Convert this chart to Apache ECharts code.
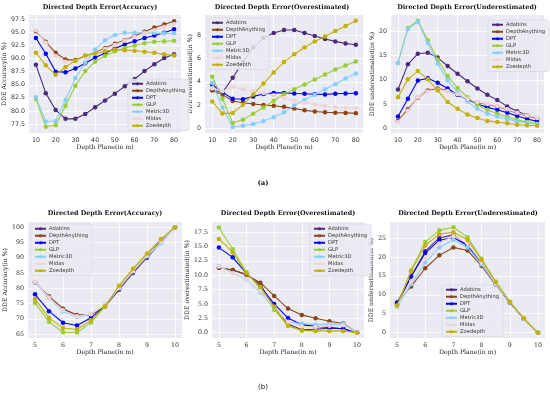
<!DOCTYPE html>
<html><head><meta charset="utf-8">
<script src="https://cdn.jsdelivr.net/npm/echarts@6/dist/echarts.min.js"></script>
<style>html,body{margin:0;padding:0;background:#fff}#c{width:550px;height:396px}</style>
</head><body><div id="c"></div>
<script>
const models = ['Adabins','DepthAnything','DPT','GLP','Metric3D','Midas','Zoedepth'];
const modelColors = ['#4b2a7b','#8b4513','#0000ff','#9acd32','#87cefa','#efd3d7','#c2b100'];

const xTop = [10,15,20,25,30,35,40,45,50,55,60,65,70,75,80];
const xBottom = [5,5.5,6,6.5,7,7.5,8,8.5,9,9.5,10];

const xTicksTop = [10,20,30,40,50,60,70,80];
const xTicksBottom = [5,6,7,8,9,10];
const yTicksTopAcc = [77.5,80,82.5,85,87.5,90,92.5,95,97.5];
const yTicksTopOver = [0,2,4,6,8];
const yTicksTopUnder = [0,5,10,15,20];
const yTicksBottomAcc = [65,70,75,80,85,90,95,100];
const yTicksBottomOver = [0,2.5,5,7.5,10,12.5,15,17.5];
const yTicksBottomUnder = [0,5,10,15,20,25];

// order: Adabins, DepthAnything, DPT, GLP, Metric3D, Midas, Zoedepth
const topAccuracy = [
  [88.8,83.4,80.2,78.5,78.5,79.4,80.7,82.0,83.3,84.7,86.1,87.6,88.9,90.1,90.8],
  [95.2,93.2,91.1,89.8,89.7,90.5,91.1,92.0,92.8,93.5,94.3,95.1,95.9,96.5,97.1],
  [93.9,90.9,87.5,87.4,88.1,89.1,90.2,91.0,91.9,92.7,93.3,93.9,94.4,94.9,95.6],
  [82.3,77.0,77.3,81.0,84.8,87.6,89.4,90.5,91.4,92.0,92.5,92.9,93.2,93.3,93.4],
  [82.6,78.0,78.1,82.1,86.3,89.2,91.7,93.5,94.5,94.9,94.9,94.9,94.9,94.8,94.8],
  [95.4,93.0,90.5,89.4,89.5,90.3,91.0,91.8,92.6,93.4,94.1,94.8,95.4,96.0,96.6],
  [91.1,88.7,86.9,88.4,89.6,90.6,90.9,91.4,91.7,91.6,91.5,91.3,91.1,90.8,90.6]
];
const topOver = [
  [3.35,3.07,4.35,5.7,6.95,7.8,8.2,8.46,8.46,8.2,7.94,7.68,7.48,7.3,7.19],
  [3.25,2.9,2.35,2.2,2.1,2.0,1.95,1.85,1.7,1.55,1.45,1.38,1.35,1.33,1.3],
  [3.75,3.1,2.55,2.5,2.75,2.95,3.05,3.05,3.0,2.98,2.93,2.92,2.97,3.0,3.02],
  [4.43,2.55,0.46,0.75,1.25,1.8,2.38,2.93,3.36,3.77,4.2,4.64,5.07,5.4,5.76],
  [3.9,1.8,0.12,0.23,0.38,0.64,0.96,1.39,1.97,2.43,2.9,3.36,3.8,4.29,4.72],
  [3.45,3.2,3.57,3.36,3.19,3.04,2.84,2.6,2.4,2.2,2.06,1.91,1.83,1.77,1.74],
  [2.32,1.27,1.33,2.03,2.92,3.85,4.81,5.7,6.38,6.96,7.48,7.9,8.38,8.8,9.25]
];
const topUnder = [
  [8.0,13.2,15.4,15.6,14.6,12.85,11.25,9.7,8.2,6.9,5.8,4.5,3.5,2.65,2.0],
  [1.5,3.9,6.3,7.8,8.2,7.8,6.9,5.9,5.3,4.9,4.5,3.8,3.1,2.5,2.0],
  [2.4,6.1,9.85,10.3,9.4,8.2,6.9,6.0,5.0,4.3,3.8,3.2,2.5,1.9,1.4],
  [13.5,20.7,22.2,18.2,14.2,10.8,8.3,6.4,4.9,3.8,3.0,2.3,1.7,1.3,0.9],
  [13.5,20.5,22.0,17.6,13.3,9.9,7.4,5.5,4.0,3.0,2.4,1.9,1.4,1.1,0.8],
  [1.3,3.6,6.4,7.6,8.0,7.7,7.0,6.1,5.4,5.0,4.6,3.9,3.2,2.6,2.1],
  [6.4,10.1,11.8,10.1,7.8,5.4,4.0,2.8,2.1,1.5,1.25,1.0,0.7,0.6,0.5]
];
const bottomAccuracy = [
  [82.0,77.2,73.2,71.1,71.3,74.2,79.5,85.0,90.0,95.0,100],
  [82.0,77.3,73.3,71.2,71.4,74.0,79.8,85.3,90.3,95.3,100],
  [78.0,72.5,68.7,67.8,70.3,74.2,80.0,85.5,90.5,95.5,100],
  [75.2,69.0,65.6,65.5,68.8,74.0,80.6,86.2,91.2,96.0,100],
  [82.0,76.8,72.5,70.6,71.5,74.5,80.0,85.5,90.5,94.8,100],
  [82.2,77.0,72.8,70.8,71.6,74.4,80.2,85.7,90.7,95.2,100],
  [76.5,70.3,67.0,66.5,69.5,74.1,80.8,86.4,91.4,96.1,100]
];
const bottomOver = [
  [11.3,10.9,10.1,8.4,4.4,1.5,0.5,0.6,0.8,0.7,0],
  [11.3,10.9,10.1,8.7,6.4,4.2,3.1,2.5,2.0,1.6,0],
  [14.8,13.1,10.3,8.0,5.0,2.55,1.4,1.1,0.9,0.7,0],
  [18.3,14.5,10.5,7.6,4.0,1.2,0.4,0.3,0.3,0.3,0],
  [11.6,10.4,9.2,7.0,4.3,1.8,1.6,1.4,1.5,1.5,0],
  [11.5,10.3,9.3,7.2,4.5,1.9,1.1,1.0,1.2,1.3,0],
  [16.3,14.0,10.3,8.0,4.5,1.2,0.4,0.3,0.3,0.3,0]
];
const bottomUnder = [
  [7.5,14.8,21.5,25.0,25.8,23.0,18.5,12.9,8.0,3.7,0],
  [8.0,12.2,17.0,20.4,22.5,21.7,17.6,12.6,8.0,3.7,0],
  [7.8,14.8,21.0,24.4,25.1,23.0,18.2,12.8,8.0,3.7,0],
  [7.0,16.5,23.9,27.0,27.8,25.2,19.5,13.5,8.2,3.8,0],
  [6.8,12.8,18.5,22.5,24.5,22.5,18.0,12.8,8.0,3.7,0],
  [7.0,13.5,19.5,23.5,25.5,23.5,18.6,13.0,8.1,3.8,0],
  [7.2,16.2,23.0,26.0,26.5,24.5,19.2,13.3,8.1,3.8,0]
];

const panels = [
  {title:'Directed Depth Error(Accuracy)', yName:'DDE Accuracy(in %)', x:xTop, data:topAccuracy,
   grid:{left:29,top:15,width:152,height:118}, xr:[6.5,83.5], yr:[75.8,98.3], xt:xTicksTop, yt:yTicksTopAcc, dec:1,
   titleX:100, titleY:7, nameGap:18, legend:{left:128,top:79}},
  {title:'Directed Depth Error(Overestimated)', yName:'DDE overestimated(in %)', x:xTop, data:topOver,
   grid:{left:205,top:15,width:158,height:118}, xr:[6.5,83.5], yr:[-0.4,9.75], xt:xTicksTop, yt:yTicksTopOver, dec:0,
   titleX:282, titleY:7, nameGap:12, legend:{left:208,top:18}},
  {title:'Directed Depth Error(Underestimated)', yName:'DDE underestimated(in %)', x:xTop, data:topUnder,
   grid:{left:391,top:15,width:153,height:118}, xr:[6.5,83.5], yr:[-1.0,23.4], xt:xTicksTop, yt:yTicksTopUnder, dec:0,
   titleX:467, titleY:7, nameGap:15, legend:{left:488,top:20}},
  {title:'Directed Depth Error(Accuracy)', yName:'DDE Accuracy(in %)', x:xBottom, data:bottomAccuracy,
   grid:{left:28,top:222,width:154,height:116}, xr:[4.75,10.25], yr:[63.7,101.7], xt:xTicksBottom, yt:yTicksBottomAcc, dec:0,
   titleX:105, titleY:213, nameGap:17, legend:{left:31,top:224}},
  {title:'Directed Depth Error(Overestimated)', yName:'DDE overestimated(in %)', x:xBottom, data:bottomOver,
   grid:{left:212,top:222,width:152,height:116}, xr:[4.75,10.25], yr:[-0.92,19.25], xt:xTicksBottom, yt:yTicksBottomOver, dec:1,
   titleX:288, titleY:213, nameGap:18, legend:{left:310,top:224}},
  {title:'Directed Depth Error(Underestimated)', yName:'DDE underestimated(in %)', x:xBottom, data:bottomUnder,
   grid:{left:390,top:222,width:155,height:116}, xr:[4.75,10.25], yr:[-1.4,29.2], xt:xTicksBottom, yt:yTicksBottomUnder, dec:0,
   titleX:468, titleY:213, nameGap:14, legend:{left:442,top:285}}
];

const serif = '"DejaVu Serif", serif';
const sans = '"DejaVu Sans", sans-serif';
const grids = [], xAxes = [], yAxes = [], series = [], legends = [], graphics = [];

panels.forEach((p, i) => {
  grids.push(Object.assign({show:true, backgroundColor:'#eaeaf2', borderWidth:0, containLabel:false}, p.grid));
  xAxes.push({
    type:'value', gridIndex:i, min:p.xr[0], max:p.xr[1],
    name:'Depth Plane(in m)', nameLocation:'middle', nameGap:10,
    nameTextStyle:{fontFamily:serif, fontSize:6.2, color:'#222'},
    axisLine:{show:false}, axisTick:{show:false, customValues:p.xt},
    axisLabel:{customValues:p.xt, fontSize:6.3, fontFamily: i<3 ? sans : serif, color:'#333', margin:4},
    splitLine:{show:true, lineStyle:{color:'#ffffff', width:0.8}}
  });
  yAxes.push({
    type:'value', gridIndex:i, min:p.yr[0], max:p.yr[1],
    name:p.yName, nameLocation:'middle', nameGap:p.nameGap, nameRotate:90,
    nameTextStyle:{fontFamily:serif, fontSize:6.2, color:'#222'},
    axisLine:{show:false}, axisTick:{show:false, customValues:p.yt},
    axisLabel:{customValues:p.yt, fontSize:6.3, fontFamily: i<3 ? sans : serif, color:'#333', margin:4,
      formatter: v => Number(v).toFixed(p.dec)},
    splitLine:{show:true, lineStyle:{color:'#ffffff', width:0.8}}
  });
  models.forEach((m, k) => {
    series.push({
      type:'line', name:m, xAxisIndex:i, yAxisIndex:i,
      data:p.x.map((xv, j) => [xv, p.data[k][j]]),
      symbol:'circle', symbolSize:4.5, showSymbol:true,
      lineStyle:{width:1.1, color:modelColors[k]},
      itemStyle:{color:modelColors[k], borderWidth:0},
      emphasis:{disabled:true}, z:2+k
    });
  });
  legends.push({
    data:models, orient:'vertical', left:p.legend.left, top:p.legend.top,
    itemWidth:11, itemHeight:4, itemGap:1.5,
    textStyle:{fontSize:5.2, fontFamily:sans, color:'#333', lineHeight:5.5, padding:[0,0,0,-2]},
    backgroundColor:'rgba(234,234,242,0.85)', borderColor:'#d4d4dc', borderWidth:0.6, borderRadius:2,
    padding:[2,4,2,3], selectedMode:false
  });
  graphics.push({type:'text', x:p.titleX, y:p.titleY,
    style:{text:p.title, font:'bold 6.4px ' + serif, fill:'#111', align:'center', verticalAlign:'middle'}});
});

graphics.push({type:'text', x:263, y:183, style:{text:'(a)', font:'bold 7px ' + serif, fill:'#111', align:'center', verticalAlign:'middle'}});
graphics.push({type:'text', x:263, y:387, style:{text:'(b)', font:'7px ' + sans, fill:'#111', align:'center', verticalAlign:'middle'}});

const chart = echarts.init(document.getElementById('c'), null, {renderer:'canvas'});
chart.setOption({
  backgroundColor:'#ffffff', animation:false,
  grid:grids, xAxis:xAxes, yAxis:yAxes, series:series, legend:legends, graphic:graphics,
  tooltip:{show:false}
});
</script></body></html>
